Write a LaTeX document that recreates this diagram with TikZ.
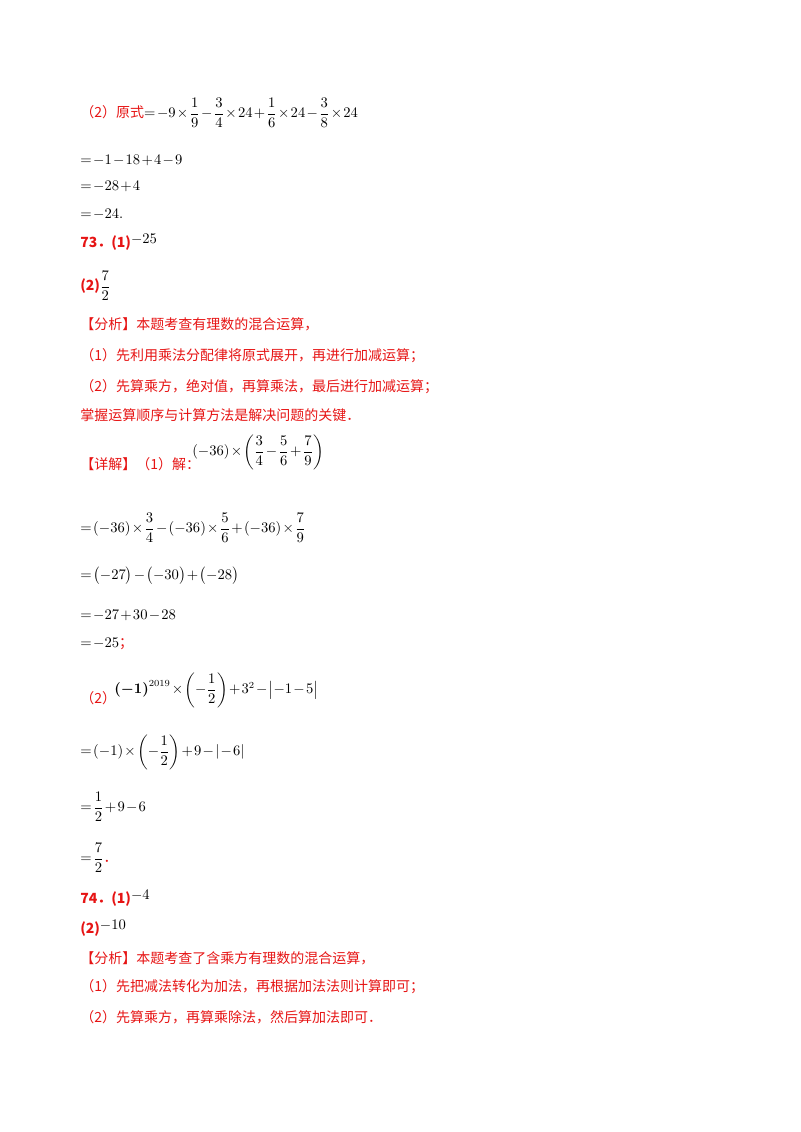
\documentclass[tikz,border=0pt]{standalone}
\usepackage{fontspec}
\usepackage{amsmath}
\newfontfamily\cjk{Noto Sans CJK SC}
\definecolor{rd}{RGB}{230,20,20}
\tikzset{ln/.style={anchor=west,inner sep=0pt,font=\fontsize{10.5}{12}\selectfont}}
\newcommand{\R}[1]{{\color{rd}\cjk #1}}
\newcommand{\up}[1]{\raisebox{3pt}{$#1$}}
\medmuskip=1.5mu
\thickmuskip=2mu
\begin{document}
\begin{tikzpicture}[x=0.75pt,y=-0.75pt]
\useasboundingbox (0,0) rectangle (800,1132);
\node[ln] (l1) at (80,113) {\R{（2）原式}$=-9\times\dfrac19-\dfrac34\times24+\dfrac16\times24-\dfrac38\times24$};
\node[ln] (l2) at (80,160) {$=-1-18+4-9$};
\node[ln] (l3) at (80,186) {$=-28+4$};
\node[ln] (l4) at (80,214) {$=-24.$};
\node[ln] (l5) at (80,242) {\R{\bfseries 73．(1)}\up{-25}};
\node[ln] (l6) at (80,286) {\R{\bfseries (2)}$\dfrac72$};
\node[ln] (l7) at (80,324) {\R{【分析】本题考查有理数的混合运算，}};
\node[ln] (l8) at (80,356) {\R{（1）先利用乘法分配律将原式展开，再进行加减运算；}};
\node[ln] (l9) at (80,387) {\R{（2）先算乘方，绝对值，再算乘法，最后进行加减运算；}};
\node[ln] (l10) at (80,415) {\R{掌握运算顺序与计算方法是解决问题的关键．}};
\node[ln] (l11) at (80,464) {\R{【详解】（1）解：}};
\node[ln] (l11b) at (192,452) {$(-36)\times\left(\dfrac34-\dfrac56+\dfrac79\right)$};
\node[ln] (l12) at (80,528) {$=(-36)\times\dfrac34-(-36)\times\dfrac56+(-36)\times\dfrac79$};
\node[ln] (l13) at (80,576) {$=\bigl(-27\bigr)-\bigl(-30\bigr)+\bigl(-28\bigr)$};
\node[ln] (l14) at (80,615) {$=-27+30-28$};
\node[ln] (l15) at (80,644) {$=-25$\R{；}};
\node[ln] (l16) at (80,698) {\R{（2）}};
\node[ln] (l16b) at (114,690) {$\boldsymbol{(-1)}^{2019}\times\left(-\dfrac12\right)+3^2-\bigl|-1-5\bigr|$};
\node[ln] (l17) at (80,752) {$=(-1)\times\left(-\dfrac12\right)+9-|-6|$};
\node[ln] (l18) at (80,807) {$=\dfrac12+9-6$};
\node[ln] (l19) at (80,858) {$=\dfrac72$\R{．}};
\node[ln] (l20) at (80,898) {\R{\bfseries 74．(1)}\up{-4}};
\node[ln] (l21) at (80,928) {\R{\bfseries (2)}\up{-10}};
\node[ln] (l22) at (80,958) {\R{【分析】本题考查了含乘方有理数的混合运算，}};
\node[ln] (l23) at (80,987) {\R{（1）先把减法转化为加法，再根据加法法则计算即可；}};
\node[ln] (l24) at (80,1017) {\R{（2）先算乘方，再算乘除法，然后算加法即可．}};
\end{tikzpicture}
\end{document}
